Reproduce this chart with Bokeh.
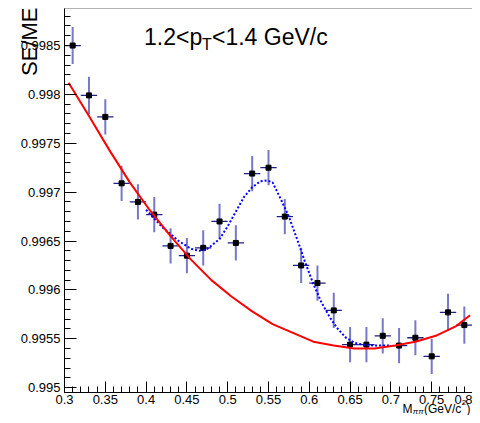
import numpy as np
from bokeh.plotting import figure
from bokeh.models import Range1d, FixedTicker, Label, ColumnDataSource, BoxAnnotation
from bokeh.embed import file_html
from bokeh.resources import INLINE

# ---- data ----
mass = [0.31, 0.33, 0.35, 0.37, 0.39, 0.41, 0.43, 0.45, 0.47, 0.49, 0.51, 0.53, 0.55,
        0.57, 0.59, 0.61, 0.63, 0.65, 0.67, 0.69, 0.71, 0.73, 0.75, 0.77, 0.79]
ratio = [0.99850, 0.99799, 0.99777, 0.99709, 0.99690, 0.99677, 0.99645, 0.99635, 0.99643,
         0.99670, 0.99648, 0.99719, 0.99725, 0.99675, 0.99625, 0.99607, 0.99579, 0.99544,
         0.99544, 0.99553, 0.99543, 0.99551, 0.99532, 0.99577, 0.99564]
ratio_err = [0.00019, 0.00019, 0.00018, 0.00018, 0.00018, 0.00018, 0.00018, 0.00018, 0.00018,
             0.00018, 0.00018, 0.00018, 0.00018, 0.00018, 0.00018, 0.00018, 0.00018, 0.00018,
             0.00018, 0.00018, 0.00018, 0.00018, 0.00018, 0.00019, 0.00019]
bin_half_width = 0.01

# background fit (red)
bkg_x = [0.305, 0.33, 0.355, 0.38, 0.405, 0.43, 0.455, 0.48, 0.505, 0.53, 0.555, 0.58,
         0.605, 0.63, 0.655, 0.68, 0.705, 0.73, 0.755, 0.78, 0.797]
bkg_y = [0.99812, 0.99778, 0.99743, 0.99710, 0.99681, 0.99655, 0.99631, 0.99610, 0.99593,
         0.99578, 0.99565, 0.99556, 0.99547, 0.99543, 0.99540, 0.99540, 0.99543, 0.99547,
         0.99553, 0.99563, 0.99574]

# total fit (blue dotted)
tot_x = [0.40, 0.42, 0.44, 0.455, 0.465, 0.475, 0.49, 0.50, 0.51, 0.52, 0.53, 0.54, 0.548,
         0.555, 0.565, 0.575, 0.585, 0.595, 0.605, 0.615, 0.625, 0.635, 0.645, 0.655,
         0.665, 0.68, 0.70]
tot_y = [0.99682, 0.99664, 0.99650, 0.99642, 0.99640, 0.99642, 0.99652, 0.99665, 0.99680,
         0.99695, 0.99705, 0.99711, 0.99712, 0.99710, 0.99693, 0.99675, 0.99652, 0.99628,
         0.99606, 0.99587, 0.99572, 0.99560, 0.99551, 0.99546, 0.99544, 0.99543, 0.99543]

ytick_vals = [0.995, 0.9955, 0.996, 0.9965, 0.997, 0.9975, 0.998, 0.9985]
ytick_labels = ["0.995", "0.9955", "0.996", "0.9965", "0.997", "0.9975", "0.998", "0.9985"]
xtick_vals = [0.3, 0.35, 0.4, 0.45, 0.5, 0.55, 0.6, 0.65, 0.7, 0.75, 0.8]
xtick_labels = ["0.3", "0.35", "0.4", "0.45", "0.5", "0.55", "0.6", "0.65", "0.7", "0.75", "0.8"]

FONT = "Liberation Sans"
X0, X1 = 0.3, 0.8          # axis limits
Y0, Y1 = 0.99495, 0.998879

W, H = 472, 415
# pixel box of the plotting area inside the canvas
BX0, BX1, BY_TOP, BY_BOT = 64, 472, 8, 392
sx = (X1 - X0) / (BX1 - BX0)
sy = (Y1 - Y0) / (BY_BOT - BY_TOP)
xr = Range1d(X0 - BX0 * sx, X1 + (W - BX1) * sx)
yr = Range1d(Y0 - (H - BY_BOT) * sy, Y1 + BY_TOP * sy)

p = figure(width=W, height=H, x_range=xr, y_range=yr,
           output_backend="svg", toolbar_location=None,
           min_border_left=0, min_border_right=0, min_border_top=0, min_border_bottom=0)
p.grid.visible = False
p.outline_line_color = None
p.background_fill_color = "white"
p.border_fill_color = "white"

p.xaxis.fixed_location = Y0
p.yaxis.fixed_location = X0
p.xaxis.bounds = (X0, X1)
p.yaxis.bounds = (Y0, Y1)

xminor = [round(X0 + 0.01 * i, 3) for i in range(51)]
yminor = [round(0.995 + 0.0001 * i, 5) for i in range(39)]
p.xaxis.ticker = FixedTicker(ticks=xtick_vals, minor_ticks=xminor)
p.yaxis.ticker = FixedTicker(ticks=ytick_vals, minor_ticks=yminor)
p.xaxis.major_label_overrides = dict(zip(xtick_vals, xtick_labels))
p.yaxis.major_label_overrides = dict(zip(ytick_vals, ytick_labels))

for ax in (p.xaxis[0], p.yaxis[0]):
    ax.axis_line_color = "black"
    ax.major_tick_line_color = "black"
    ax.minor_tick_line_color = "black"
    ax.major_tick_out = 0
    ax.minor_tick_out = 0
    ax.minor_tick_in = 6
    ax.major_label_text_font = FONT
    ax.major_label_text_font_size = "13px"
    ax.major_label_text_color = "black"
p.xaxis.major_tick_in = 11
p.yaxis.major_tick_in = 12
p.xaxis.major_label_standoff = 2
p.yaxis.major_label_standoff = 4

# frame box (top / right edges)
p.add_layout(BoxAnnotation(left=X0, right=X1, bottom=Y0, top=Y1, fill_alpha=0,
                           line_color="black", line_width=1))

src = ColumnDataSource(dict(
    x=mass, y=ratio,
    lo=[v - e for v, e in zip(ratio, ratio_err)],
    hi=[v + e for v, e in zip(ratio, ratio_err)],
    xl=[m - bin_half_width for m in mass],
    xr=[m + bin_half_width for m in mass],
))
p.segment(x0="x", y0="lo", x1="x", y1="hi", source=src, line_color="#7878c8", line_width=2)
p.segment(x0="xl", y0="y", x1="xr", y1="y", source=src, line_color="#202088", line_width=1.3)
p.scatter(x="x", y="y", source=src, marker="square", size=5, fill_color="black",
          line_color="black")

p.line(tot_x, tot_y, line_color="#0000ff", line_width=2, line_dash="2 2")
p.line(bkg_x, bkg_y, line_color="#ff0000", line_width=2)

def dx(px):
    return X0 + (px - BX0) * sx
def dy(py):
    return Y0 + (BY_BOT - py) * sy

def add_text(txt, px, py, size, **kw):
    p.add_layout(Label(x=dx(px), y=dy(py), text=txt, text_font=FONT,
                       text_font_size=f"{size}px", text_color="black",
                       text_baseline="alphabetic", **kw))

# title 1.2<p_T<1.4 GeV/c
add_text("1.2<p", 143.5, 36, 23)
add_text("T", 201.5, 44, 16)
add_text("<1.4 GeV/c", 211.5, 36, 23)

# y-axis title
add_text("SE/ME", 28.5, 7, 22, angle=np.pi / 2, text_align="right")

# x-axis title M_pipi (GeV/c^2)
add_text("M", 402.0, 408, 12)
add_text("\u03c0\u03c0", 412.3, 410.5, 8, text_font_style="italic")
add_text("(GeV/c", 423.4, 408, 12)
add_text("2", 461.2, 402, 8)
add_text(")", 466.0, 408, 12)

open("out.html", "w").write(file_html(p, INLINE))
